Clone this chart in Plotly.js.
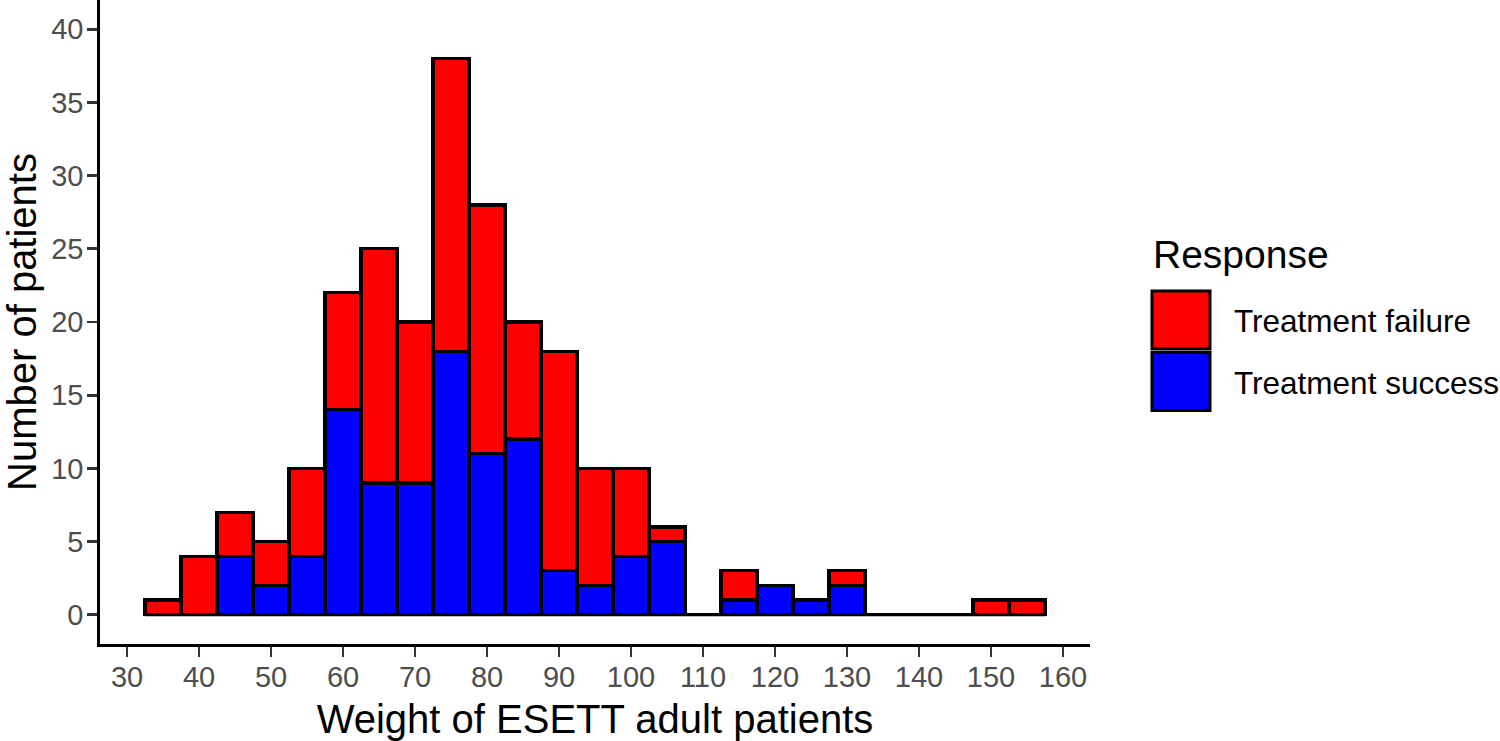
<!DOCTYPE html>
<html>
<head>
<meta charset="utf-8">
<script src="https://cdn.plot.ly/plotly-3.0.1.min.js"></script>
<style>html,body{margin:0;padding:0;background:#fff;}#chart{width:1500px;height:741px;}</style>
</head>
<body>
<div id="chart"></div>
<script>
// Bin centres (width 5) of patient weight
const binCenters = [35,40,45,50,55,60,65,70,75,80,85,90,95,100,105,110,115,120,125,130,135,140,145,150,155];
const binWidth = 5;
// Counts per bin
const successCounts = [0,0,4,2,4,14,9,9,18,11,12,3,2,4,5,0,1,2,1,2,0,0,0,0,0];
const failureCounts = [1,4,3,3,6,8,16,11,20,17,8,15,8,6,1,0,2,0,0,1,0,0,0,1,1];
const seriesNames = ["Treatment failure","Treatment success"];
const seriesColors = ["#FF0000","#0000FF"];
const xTicks = [30,40,50,60,70,80,90,100,110,120,130,140,150,160];
const yTicks = [0,5,10,15,20,25,30,35,40];

const FONT = "Arial, 'Liberation Sans', sans-serif";
const M = {l:100, r:410, t:0, b:97};
const W = 1500 - M.l - M.r, H = 741 - M.t - M.b;
const px = x => (x - M.l) / W;
const py = y => (M.t + H - y) / H;

const barLine = {color:"#000000", width:3.2};
const traces = [
  {type:"bar", x:binCenters, y:successCounts, width:binWidth, name:seriesNames[1],
   marker:{color:seriesColors[1], line:barLine}, showlegend:false, hoverinfo:"x+y"},
  {type:"bar", x:binCenters, y:failureCounts, width:binWidth, name:seriesNames[0],
   marker:{color:seriesColors[0], line:barLine}, showlegend:false, hoverinfo:"x+y"},
  // baseline of empty bins
  {type:"scatter", mode:"lines",
   x:[binCenters[0]-binWidth/2, binCenters[binCenters.length-1]+binWidth/2], y:[0,0],
   line:{color:"#000000", width:3}, showlegend:false, hoverinfo:"skip"}
];

const lo = binCenters[0]-binWidth/2, hi = binCenters[binCenters.length-1]+binWidth/2;
const ex = (hi-lo)*0.05;

const shapes = [];
const annotations = [];
// custom legend
annotations.push({xref:"paper", yref:"paper", x:px(1151), y:py(254), xanchor:"left", yanchor:"middle",
  text:"Response", showarrow:false, font:{family:FONT, size:39, color:"#000000"}});
const keyTop = [290, 351.5];
seriesNames.forEach((nm,i)=>{
  shapes.push({type:"rect", xref:"paper", yref:"paper", x0:px(1152), x1:px(1210),
    y0:py(keyTop[i]+1), y1:py(keyTop[i]+59), fillcolor:seriesColors[i],
    line:{color:"#000000", width:3}});
  annotations.push({xref:"paper", yref:"paper", x:px(1232), y:py(keyTop[i]+31), xanchor:"left", yanchor:"middle",
    text:nm, showarrow:false, font:{family:FONT, size:31.5, color:"#000000"}});
});

const layout = {
  width:1500, height:741,
  margin:M,
  paper_bgcolor:"#ffffff", plot_bgcolor:"#ffffff",
  font:{family:FONT, color:"#000000"},
  barmode:"stack", bargap:0,
  showlegend:false,
  xaxis:{
    range:[lo-ex, hi+ex], tickvals:xTicks, ticktext:xTicks.map(String),
    showgrid:false, zeroline:false, showline:true, linecolor:"#000000", linewidth:2.8,
    ticks:"outside", ticklen:10, tickwidth:2.8, tickcolor:"#333333",
    tickfont:{family:FONT, size:29, color:"#4D4D4D"}, ticklabelstandoff:-5,
    title:{text:"Weight of ESETT adult patients", font:{family:FONT, size:40, color:"#000000"}, standoff:14},
    automargin:false, fixedrange:true
  },
  yaxis:{
    range:[-2, 42], tickvals:yTicks, ticktext:yTicks.map(String),
    showgrid:false, zeroline:false, showline:true, linecolor:"#000000", linewidth:2.8,
    ticks:"outside", ticklen:10, tickwidth:2.8, tickcolor:"#333333",
    tickfont:{family:FONT, size:29, color:"#4D4D4D"}, ticklabelstandoff:-2,
    title:{text:"Number of patients", font:{family:FONT, size:40, color:"#000000"}, standoff:9},
    automargin:false, fixedrange:true
  },
  shapes:shapes,
  annotations:annotations
};

Plotly.newPlot("chart", traces, layout, {displayModeBar:false, staticPlot:true});
</script>
</body>
</html>
